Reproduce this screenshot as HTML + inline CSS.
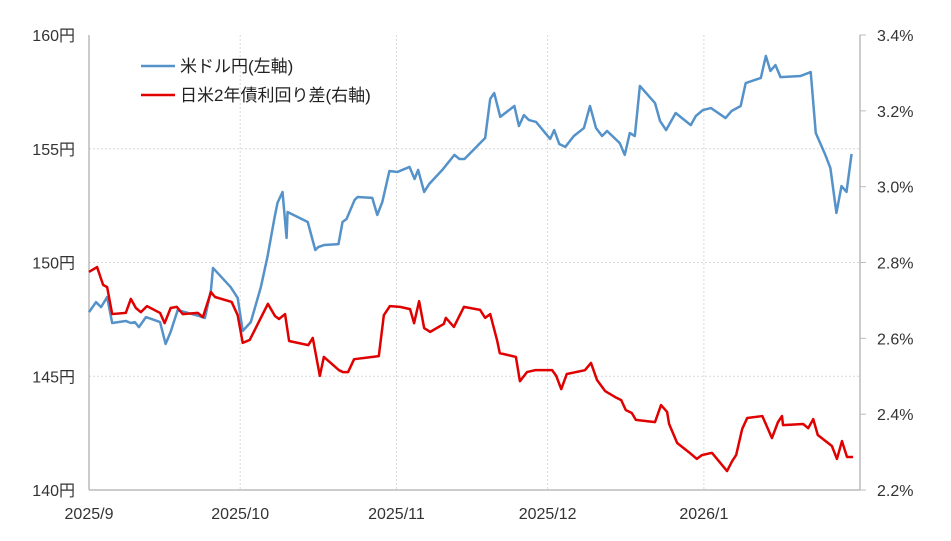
<!DOCTYPE html>
<html><head><meta charset="utf-8">
<style>
body{margin:0;background:#fff;}
svg{display:block;font-family:"Liberation Sans","Noto Sans CJK JP",sans-serif;}
</style></head>
<body>
<svg id="chart" width="951" height="541" viewBox="0 0 951 541" xmlns="http://www.w3.org/2000/svg">
<g id="grid"></g>
<g id="axes"></g>
<g id="series"></g>
<g id="legend">
  <line x1="141" y1="66" x2="175" y2="66" stroke="#5592c9" stroke-width="2.5"/>
  <text x="180" y="72" font-size="17" fill="#222">米ドル円(左軸)</text>
  <line x1="141" y1="95" x2="175" y2="95" stroke="#e00000" stroke-width="2.5"/>
  <text x="180" y="101" font-size="17" fill="#222">日米2年債利回り差(右軸)</text>
</g>
</svg>
<script>
// x = days since 2025/9/1
const usdDays = [0,1.4,2.4,3.6,4.6,7.3,8.3,9.1,9.9,11.3,14.1,15.2,16.2,17.6,21.8,23.0,24.2,24.6,28.1,29.5,30.5,32.1,34.1,35.4,36.8,37.4,38.4,39.2,39.4,43.4,44.9,45.5,46.7,49.5,50.3,51.1,52.7,53.3,56.2,57.2,58.2,59.6,61.2,63.6,64.6,65.3,66.5,67.5,70.1,72.5,73.5,74.5,78.6,79.6,80.4,81.6,84.4,85.3,86.3,87.3,88.7,91.5,92.3,93.3,94.5,96.2,98.2,99.4,100.6,101.8,102.8,105.3,106.3,107.3,108.3,109.3,112.3,113.3,114.5,116.4,119.4,120.4,121.8,123.4,126.3,127.5,129.3,130.3,133.3,134.3,135.2,136.2,137.2,141.2,143.2,144.2,146.1,147.1,148.3,149.3,150.3,151.3];
const usdValues = [147.82,148.26,148.04,148.48,147.34,147.43,147.34,147.38,147.16,147.60,147.38,146.42,146.95,147.91,147.65,147.56,148.79,149.76,148.92,148.44,146.99,147.38,148.92,150.24,151.96,152.62,153.10,151.08,152.22,151.78,150.55,150.68,150.77,150.81,151.78,151.91,152.75,152.88,152.84,152.09,152.66,154.02,153.98,154.20,153.67,154.07,153.10,153.45,154.07,154.73,154.55,154.55,155.47,157.19,157.45,156.40,156.88,156.00,156.48,156.26,156.18,155.43,155.82,155.21,155.08,155.56,155.91,156.88,155.91,155.56,155.78,155.25,154.73,155.69,155.56,157.76,157.01,156.22,155.82,156.57,156.04,156.44,156.70,156.79,156.35,156.66,156.88,157.89,158.11,159.08,158.42,158.68,158.15,158.20,158.37,155.69,154.73,154.15,152.18,153.36,153.10,154.77];
const spreadDays = [0,1.6,2.8,3.6,4.6,7.3,8.3,9.3,10.3,11.5,14.1,15.0,16.2,17.4,18.6,21.6,22.6,24.2,25.0,28.3,29.5,30.5,31.9,35.5,36.9,37.7,38.9,39.7,43.5,44.4,45.8,46.6,49.6,50.4,51.4,52.6,57.5,58.5,59.7,61.7,63.7,64.5,65.5,66.5,67.7,70.4,70.8,72.4,74.4,77.6,78.6,79.6,81.0,81.5,84.7,85.5,86.9,88.5,91.9,92.7,93.7,94.8,98.4,99.6,100.8,102.4,104.4,105.6,106.5,107.7,108.5,112.3,113.5,114.7,115.1,116.7,119.0,120.6,121.6,123.6,126.6,127.6,128.4,129.6,130.6,133.6,135.5,136.7,137.5,137.7,141.7,142.7,143.7,144.6,147.4,148.4,149.4,150.4,151.6];
const spreadValues = [2.775,2.788,2.741,2.735,2.664,2.667,2.704,2.680,2.669,2.685,2.667,2.640,2.680,2.683,2.664,2.667,2.656,2.722,2.709,2.696,2.661,2.588,2.596,2.691,2.659,2.651,2.664,2.593,2.582,2.601,2.501,2.551,2.516,2.511,2.511,2.545,2.553,2.661,2.685,2.683,2.677,2.640,2.698,2.627,2.617,2.638,2.654,2.630,2.683,2.675,2.654,2.664,2.593,2.561,2.551,2.487,2.511,2.516,2.516,2.501,2.466,2.506,2.516,2.535,2.490,2.461,2.445,2.437,2.411,2.403,2.385,2.379,2.424,2.406,2.374,2.324,2.300,2.282,2.292,2.298,2.250,2.276,2.292,2.361,2.390,2.395,2.337,2.379,2.395,2.371,2.374,2.363,2.387,2.345,2.316,2.282,2.329,2.287,2.287];
const leftTicks = [140,145,150,155,160];
const rightTicks = [2.2,2.4,2.6,2.8,3.0,3.2,3.4];
const xTickDays = [0,30,61,91,122];
const xTickLabels = ['2025/9','2025/10','2025/11','2025/12','2026/1'];

const L=89,R=860,T=35,B=490;
const x = d => L + d*5.04;
const yL = v => B - (v-140)/(160-140)*(B-T);
const yR = v => B - (v-2.2)/(3.4-2.2)*(B-T);
const NS='http://www.w3.org/2000/svg';
function mk(tag,attrs,parent){const e=document.createElementNS(NS,tag);for(const k in attrs)e.setAttribute(k,attrs[k]);parent.appendChild(e);return e;}
const grid=document.getElementById('grid'),axes=document.getElementById('axes'),series=document.getElementById('series');

leftTicks.forEach(v=>{
  const y=yL(v);
  if(v>140&&v<160){const g=mk('line',{x1:L,x2:R,y1:y,y2:y,stroke:'#d8d8d8','stroke-dasharray':'2,2'},grid);
  
  }
  const t=mk('text',{x:75,y:y+6,'text-anchor':'end','font-size':16,fill:'#333'},axes);
  t.textContent=v+'円';
  
  
});
rightTicks.forEach(v=>{
  const y=yR(v);
  const tk=mk('line',{x1:R,x2:R+6,y1:y,y2:y,stroke:'#bbb'},axes);
  
  
  const t=mk('text',{x:877,y:y+6,'font-size':16,fill:'#333'},axes);
  t.textContent=v.toFixed(1)+'%';
  
  
});
xTickDays.forEach((d,i)=>{
  const xx=x(d);
  if(i>0){const g=mk('line',{x1:xx,x2:xx,y1:T,y2:B,stroke:'#d8d8d8','stroke-dasharray':'2,2'},grid);
  
  }
  const t=mk('text',{x:xx,y:519,'text-anchor':'middle','font-size':16,fill:'#333'},axes);
  t.textContent=xTickLabels[i];
  
  
});
const al=mk('line',{x1:L,x2:L,y1:T,y2:B,stroke:'#bbb','stroke-width':1.5},axes);


const ar=mk('line',{x1:R,x2:R,y1:T,y2:B,stroke:'#bbb','stroke-width':1.5},axes);


const ab=mk('line',{x1:L,x2:R,y1:B,y2:B,stroke:'#bbb','stroke-width':1.5},axes);



const p1=mk('polyline',{points:usdDays.map((d,i)=>x(d)+','+yL(usdValues[i])).join(' '),fill:'none',stroke:'#5592c9','stroke-width':2.5,'stroke-linejoin':'round'},series);


const p2=mk('polyline',{points:spreadDays.map((d,i)=>x(d)+','+yR(spreadValues[i])).join(' '),fill:'none',stroke:'#e00000','stroke-width':2.5,'stroke-linejoin':'round'},series);


</script>
</body></html>
